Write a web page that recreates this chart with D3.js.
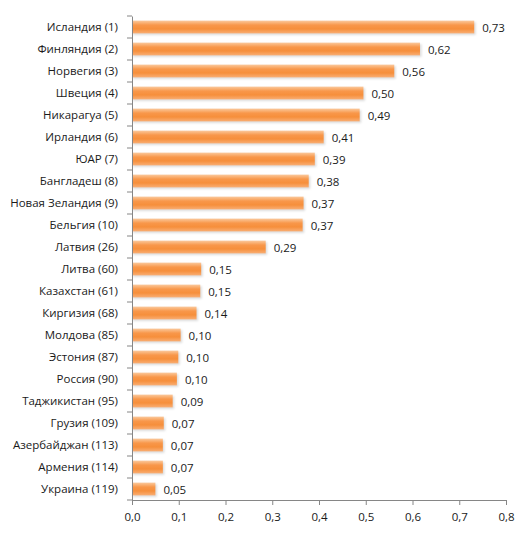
<!DOCTYPE html>
<html>
<head>
<meta charset="utf-8">
<script src="https://cdn.jsdelivr.net/npm/d3@7"></script>
<style>
  body { margin: 0; background: #fff; }
  text { font-family: "Open Sans", "DejaVu Sans", sans-serif; fill: #1a1a1a; }
</style>
</head>
<body>
<div id="chart"></div>
<script>
var countries = ['Исландия (1)', 'Финляндия (2)', 'Норвегия (3)', 'Швеция (4)', 'Никарагуа (5)',
    'Ирландия (6)', 'ЮАР (7)', 'Бангладеш (8)', 'Новая Зеландия (9)', 'Бельгия (10)',
    'Латвия (26)', 'Литва (60)', 'Казахстан (61)', 'Киргизия (68)', 'Молдова (85)',
    'Эстония (87)', 'Россия (90)', 'Таджикистан (95)', 'Грузия (109)', 'Азербайджан (113)',
    'Армения (114)', 'Украина (119)'];
var values = [0.732, 0.616, 0.561, 0.495, 0.487, 0.410, 0.391, 0.378, 0.367, 0.365,
    0.286, 0.148, 0.146, 0.138, 0.104, 0.099, 0.096, 0.087, 0.068, 0.066, 0.066, 0.050];
var labels = ['0,73', '0,62', '0,56', '0,50', '0,49', '0,41', '0,39', '0,38', '0,37', '0,37',
    '0,29', '0,15', '0,15', '0,14', '0,10', '0,10', '0,10', '0,09', '0,07', '0,07', '0,07', '0,05'];
var xTicks = [0, 0.1, 0.2, 0.3, 0.4, 0.5, 0.6, 0.7, 0.8];

var width = 531, height = 535;
var margin = {top: 16, right: 25, bottom: 35, left: 132};

var svg = d3.select('#chart').append('svg')
    .attr('width', width)
    .attr('height', height);

var defs = svg.append('defs');
var grad = defs.append('linearGradient')
    .attr('id', 'barGrad')
    .attr('x1', 0).attr('y1', 0).attr('x2', 0).attr('y2', 1);
grad.append('stop').attr('offset', '0%').attr('stop-color', '#fbc99c');
grad.append('stop').attr('offset', '35%').attr('stop-color', '#f8974a');
grad.append('stop').attr('offset', '65%').attr('stop-color', '#f68f3b');
grad.append('stop').attr('offset', '100%').attr('stop-color', '#f9ae74');

var blur = defs.append('filter').attr('id', 'shadow')
    .attr('x', '-10%').attr('y', '-50%').attr('width', '120%').attr('height', '200%');
blur.append('feGaussianBlur').attr('stdDeviation', 1);

var x = d3.scaleLinear()
    .domain([0, 0.8])
    .range([margin.left, width - margin.right]);

var y = d3.scaleBand()
    .domain(countries)
    .range([margin.top, height - margin.bottom])
    .paddingInner(0.42)
    .paddingOuter(0.21);

var rows = countries.map(function(c, i) {
    return {name: c, value: values[i], label: labels[i]};
});

// shadows
svg.append('g').selectAll('rect')
    .data(rows)
    .enter()
    .append('rect')
    .attr('x', x(0) + 1)
    .attr('y', function(d) { return y(d.name) + 1.5; })
    .attr('width', function(d) { return x(d.value) - x(0) + 0.5; })
    .attr('height', y.bandwidth())
    .style('fill', '#999')
    .style('opacity', 0.35)
    .attr('filter', 'url(#shadow)');

svg.append('g').selectAll('rect')
    .data(rows)
    .enter()
    .append('rect')
    .attr('x', x(0))
    .attr('y', function(d) { return y(d.name); })
    .attr('width', function(d) { return x(d.value) - x(0); })
    .attr('height', y.bandwidth())
    .style('fill', 'url(#barGrad)');

// value labels
svg.append('g').selectAll('text')
    .data(rows)
    .enter()
    .append('text')
    .attr('x', function(d) { return x(d.value) + 8; })
    .attr('y', function(d) { return y(d.name) + y.bandwidth() / 2 + 1; })
    .attr('dy', '0.35em')
    .style('font-size', '11.5px')
    .text(function(d) { return d.label; });

// y axis
var yAxis = d3.axisLeft(y).tickSize(0).tickPadding(14);
var gy = svg.append('g')
    .attr('transform', 'translate(' + x(0) + ',0)')
    .call(yAxis);
gy.select('.domain').attr('stroke', '#868686');
gy.selectAll('text').style('font-size', '11.5px').attr('fill', '#1a1a1a');

// category separator ticks
var step = y.step();
var bounds = d3.range(countries.length + 1).map(function(i) {
    return margin.top + i * step;
});
gy.selectAll('line.sep')
    .data(bounds)
    .enter()
    .append('line')
    .attr('class', 'sep')
    .attr('x1', -5).attr('x2', 0)
    .attr('y1', function(d) { return d; })
    .attr('y2', function(d) { return d; })
    .attr('stroke', '#868686');

// x axis
var xAxis = d3.axisBottom(x)
    .tickValues(xTicks)
    .tickSize(5)
    .tickPadding(8)
    .tickFormat(function(d) { return d3.format('.1f')(d).replace('.', ','); });
var gx = svg.append('g')
    .attr('transform', 'translate(0,' + (height - margin.bottom) + ')')
    .call(xAxis);
gx.select('.domain').attr('stroke', '#868686');
gx.selectAll('.tick line').attr('stroke', '#868686');
gx.selectAll('text').style('font-size', '11.5px').attr('fill', '#1a1a1a');
</script>
</body>
</html>
